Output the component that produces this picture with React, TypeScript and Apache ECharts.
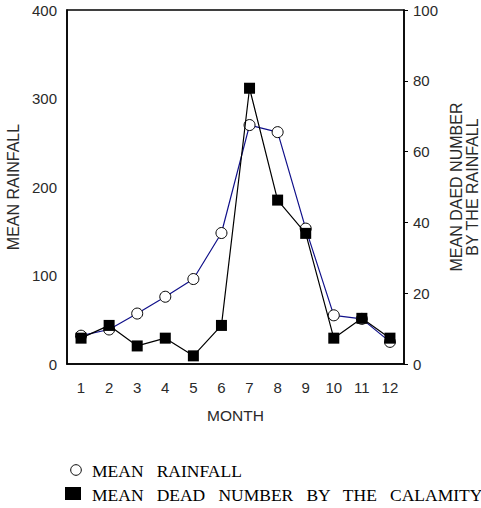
import React, { useEffect, useRef } from "react";
import * as echarts from "echarts";

const months = ["1", "2", "3", "4", "5", "6", "7", "8", "9", "10", "11", "12"];
const meanRainfall = [32, 39, 57, 76, 96, 148, 270, 262, 153, 55, 51, 25];
const meanDead = [7.3, 10.9, 5.1, 7.3, 2.3, 10.9, 77.9, 46.3, 36.9, 7.3, 12.9, 7.3];
const legendLabels = ["MEAN   RAINFALL", "MEAN   DEAD   NUMBER   BY   THE   CALAMITY"];

export default function App() {
  const ref = useRef<HTMLDivElement>(null);
  useEffect(() => {
    document.body.style.margin = "0";
    const chart = echarts.init(ref.current!, null, { renderer: "svg" });
    const fam = "Liberation Sans, Arial, sans-serif";
    const tickFont = { fontFamily: fam, fontSize: 15, color: "#2a2a2a" };
    const nameFont = { fontFamily: fam, fontSize: 16, color: "#2a2a2a" };
    const legendFont = "17.5px 'Liberation Serif', 'Times New Roman', serif";
    chart.setOption({
      animation: false,
      backgroundColor: "#fff",
      grid: {
        left: 67,
        right: 77,
        top: 10,
        bottom: 144,
        outerBoundsMode: "none",
        containLabel: false,
        show: true,
        borderColor: "#000",
        borderWidth: 1.5,
      },
      xAxis: {
        type: "category",
        data: months,
        boundaryGap: true,
        name: "MONTH",
        nameLocation: "middle",
        nameGap: 43,
        nameTextStyle: { ...nameFont, fontSize: 15.5 },
        axisLine: { lineStyle: { color: "#000", width: 1.5 } },
        axisTick: { inside: true, length: 4, lineStyle: { color: "#000" } },
        axisLabel: { ...tickFont, margin: 16 },
      },
      yAxis: [
        {
          type: "value",
          min: 0,
          max: 400,
          interval: 100,
          name: "MEAN RAINFALL",
          nameLocation: "middle",
          nameGap: 43,
          nameRotate: 90,
          nameTextStyle: nameFont,
          splitLine: { show: false },
          axisLine: { show: true, lineStyle: { color: "#000", width: 1.5 } },
          axisTick: { show: false },
          axisLabel: { ...tickFont, margin: 10 },
        },
        {
          type: "value",
          min: 0,
          max: 100,
          interval: 20,
          position: "right",
          name: "MEAN DAED NUMBER\nBY THE RAINFALL",
          nameLocation: "middle",
          nameGap: 43,
          nameRotate: 90,
          nameTextStyle: { ...nameFont, lineHeight: 16 },
          splitLine: { show: false },
          axisLine: { show: true, lineStyle: { color: "#000", width: 1.5 } },
          axisTick: { show: true, inside: false, length: 4, lineStyle: { color: "#000" } },
          axisLabel: { ...tickFont, margin: 9 },
        },
      ],
      series: [
        {
          name: "MEAN RAINFALL",
          type: "line",
          yAxisIndex: 0,
          data: meanRainfall,
          symbol: "circle",
          symbolSize: 11,
          lineStyle: { color: "#10108a", width: 1.2 },
          itemStyle: { color: "#fff", borderColor: "#000", borderWidth: 1 },
          z: 2,
        },
        {
          name: "MEAN DEAD NUMBER BY THE CALAMITY",
          type: "line",
          yAxisIndex: 1,
          data: meanDead,
          symbol: "rect",
          symbolSize: 11,
          lineStyle: { color: "#000", width: 1.2 },
          itemStyle: { color: "#000", borderColor: "#000", borderWidth: 0 },
          z: 3,
        },
      ],
      graphic: [
        {
          type: "circle",
          shape: { cx: 76, cy: 470, r: 5.3 },
          style: { fill: "#fff", stroke: "#000", lineWidth: 1 },
        },
        {
          type: "text",
          x: 92,
          y: 471,
          style: {
            text: legendLabels[0],
            font: legendFont,
            fill: "#000",
            verticalAlign: "middle",
          },
        },
        {
          type: "rect",
          shape: { x: 65, y: 487, width: 16, height: 13 },
          style: { fill: "#000" },
        },
        {
          type: "text",
          x: 92,
          y: 495,
          style: {
            text: legendLabels[1],
            font: legendFont,
            fill: "#000",
            verticalAlign: "middle",
          },
        },
      ],
    });
    return () => chart.dispose();
  }, []);
  return <div ref={ref} style={{ width: 481, height: 508 }} />;
}
